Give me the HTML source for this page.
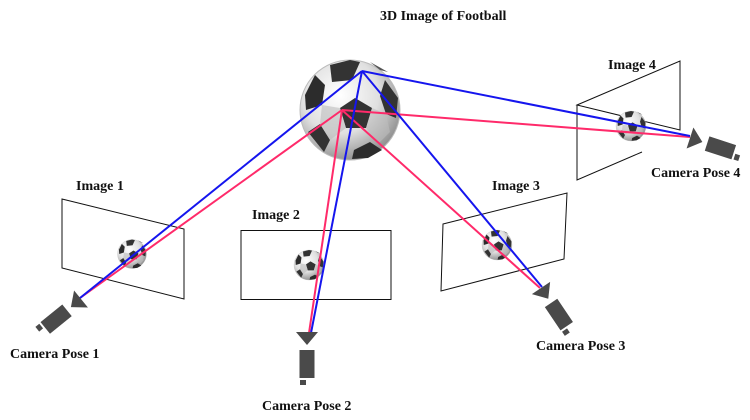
<!DOCTYPE html>
<html><head><style>
body{margin:0;background:#fff;}
svg{display:block;}
text{font-family:"Liberation Serif",serif;font-weight:bold;font-size:14px;fill:#111;}
</style></head><body>
<svg width="750" height="420" viewBox="0 0 750 420" xmlns="http://www.w3.org/2000/svg">
<defs>
<radialGradient id="bg" cx="0.4" cy="0.35" r="0.7">
<stop offset="0" stop-color="#fff"/><stop offset="0.55" stop-color="#e0e0e0"/><stop offset="1" stop-color="#888"/>
</radialGradient>
<g id="ball">
<circle r="50" fill="url(#bg)" stroke="#bbb" stroke-width="1"/>
<polygon points="5,-12 22,-2 16,18 -4,18 -10,-2" fill="#333"/>
<path d="M-20,-45 L0,-50 L10,-48 L2,-30 L-18,-28 Z" fill="#333"/>
<path d="M-45,-15 L-35,-35 L-25,-25 L-28,-5 L-44,0 Z" fill="#2c2c2c"/>
<path d="M35,-30 L48,-12 L46,8 L36,4 L30,-14 Z" fill="#333"/>
<path d="M-42,22 L-30,14 L-20,30 L-26,42 Z" fill="#333"/>
<path d="M4,40 L20,32 L32,40 L18,48 L2,49 Z" fill="#2c2c2c"/>
<path d="M30,-40 L20,-48 L38,-38 Z" fill="#555"/>
<path d="M-28,-5 L-10,-2 L-4,18 L-20,30 L-30,14 Z" fill="#bdbdbd" opacity="0.6"/>
<path d="M22,-2 L36,4 L40,22 L28,34 L16,18 Z" fill="#bdbdbd" opacity="0.6"/>
</g>
<g id="cam" fill="#4a4a4a">
<polygon points="0,-11 0,11 -13,0"/>
<rect x="-46" y="-7.5" width="28" height="15"/>
<rect x="-53" y="-7" width="5" height="6"/>
</g>
</defs>

<text x="380" y="20">3D Image of Football</text>

<polygon points="62,199 184,229 184,299 62,268" fill="none" stroke="#111" stroke-width="1"/>
<rect x="241" y="230.5" width="150" height="69" fill="none" stroke="#111" stroke-width="1"/>
<polygon points="443,224 567,193 564,259 441,291" fill="none" stroke="#111" stroke-width="1"/>
<polygon points="577,105 680,61 680,130" fill="none" stroke="#111" stroke-width="1"/>
<polyline points="577,105 577,180 642,152" fill="none" stroke="#111" stroke-width="1"/>

<text x="76" y="190">Image 1</text>
<text x="252" y="219">Image 2</text>
<text x="492" y="190">Image 3</text>
<text x="608" y="69">Image 4</text>

<use href="#ball" transform="translate(350,110)"/>
<use href="#ball" transform="translate(132,254) scale(0.29)"/>
<use href="#ball" transform="translate(309,265) scale(0.3)"/>
<use href="#ball" transform="translate(497,245) scale(0.3)"/>
<use href="#ball" transform="translate(631,126) scale(0.3)"/>

<g stroke="#ff2a6a" stroke-width="2" fill="none">
<line x1="342" y1="110" x2="80" y2="298"/>
<line x1="342" y1="110" x2="309" y2="333"/>
<line x1="342" y1="110" x2="540" y2="288"/>
<line x1="342" y1="110" x2="690" y2="137"/>
</g>
<g stroke="#1515ee" stroke-width="2" fill="none">
<line x1="362" y1="71" x2="80" y2="298"/>
<line x1="362" y1="71" x2="311" y2="333"/>
<line x1="362" y1="71" x2="542" y2="287"/>
<line x1="362" y1="71" x2="690" y2="136"/>
</g>

<use href="#cam" transform="translate(81,299) rotate(-39)"/>
<use href="#cam" transform="translate(307,332) rotate(-90)"/>
<use href="#cam" transform="translate(541,288) rotate(-124)"/>
<use href="#cam" transform="translate(690,138) rotate(-162)"/>

<text x="10" y="358">Camera Pose 1</text>
<text x="262" y="410">Camera Pose 2</text>
<text x="536" y="350">Camera Pose 3</text>
<text x="651" y="177">Camera Pose 4</text>
</svg>
</body></html>
